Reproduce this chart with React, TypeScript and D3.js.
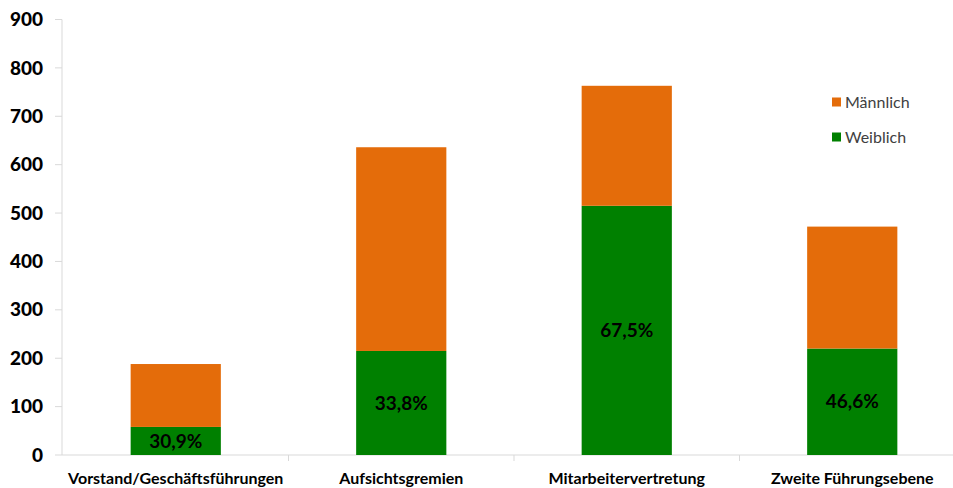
import React, { useEffect, useRef } from "react";
import * as d3 from "d3";

const categories = ["Vorstand/Geschäftsführungen", "Aufsichtsgremien", "Mitarbeitervertretung", "Zweite Führungsebene"];
const weiblich = [58, 215, 515, 220];
const maennlich = [130, 421, 248, 252];
const percentLabels = ["30,9%", "33,8%", "67,5%", "46,6%"];
const yTicks = [0, 100, 200, 300, 400, 500, 600, 700, 800, 900];
const seriesNames = ["Männlich", "Weiblich"];
const colors = { Männlich: "#E46C0A", Weiblich: "#008000" } as Record<string, string>;

export default function App() {
  const ref = useRef<SVGSVGElement>(null);
  useEffect(() => {
    document.body.style.margin = "0";
    const svg = d3.select(ref.current);
    svg.selectAll("*").remove();
    const W = 953;
    const font = "Lato, 'Open Sans', sans-serif";
    const x = d3.scaleBand<string>().domain(categories).range([63, 965]).paddingInner(0.6).paddingOuter(0.3);
    const y = d3.scaleLinear().domain([0, 900]).range([455, 19.5]);

    svg.append("line").attr("x1", 62).attr("x2", 62).attr("y1", y(900)).attr("y2", y(0)).attr("stroke", "#d9d9d9").attr("stroke-width", 1);
    svg.append("line").attr("x1", 62).attr("x2", W).attr("y1", y(0)).attr("y2", y(0)).attr("stroke", "#d9d9d9").attr("stroke-width", 1);
    yTicks.forEach((t) => {
      svg.append("line").attr("x1", 55).attr("x2", 62).attr("y1", y(t)).attr("y2", y(t)).attr("stroke", "#d9d9d9");
      svg.append("text").attr("x", 43).attr("y", y(t)).attr("dy", "0.35em").attr("text-anchor", "end")
        .attr("font-family", font).attr("font-weight", "900").attr("font-size", 19).attr("fill", "#000").text(String(t));
    });
    const step = x.step();
    categories.forEach((c, i) => {
      if (i > 0) {
        const boundary = (x(categories[i - 1]) as number) + x.bandwidth() + (step - x.bandwidth()) / 2;
        svg.append("line").attr("x1", boundary).attr("x2", boundary).attr("y1", y(0)).attr("y2", y(0) + 6).attr("stroke", "#d9d9d9");
      }
      svg.append("text").attr("x", (x(c) as number) + x.bandwidth() / 2).attr("y", 478).attr("dy", "0.35em")
        .attr("text-anchor", "middle").attr("font-family", font).attr("font-weight", "bold").attr("font-size", 16).attr("fill", "#000").text(c);
    });

    categories.forEach((c, i) => {
      const bx = x(c) as number;
      const bw = x.bandwidth();
      svg.append("rect").attr("x", bx).attr("width", bw).attr("y", y(weiblich[i])).attr("height", y(0) - y(weiblich[i])).attr("fill", colors["Weiblich"]);
      const top = weiblich[i] + maennlich[i];
      svg.append("rect").attr("x", bx).attr("width", bw).attr("y", y(top)).attr("height", y(weiblich[i]) - y(top)).attr("fill", colors["Männlich"]);
      svg.append("text").attr("x", bx + bw / 2).attr("y", (y(0) + y(weiblich[i])) / 2).attr("dy", "0.35em")
        .attr("text-anchor", "middle").attr("font-family", font).attr("font-weight", "bold").attr("font-size", 19).attr("fill", "#000").text(percentLabels[i]);
    });

    seriesNames.forEach((s, i) => {
      const ly = 102 + i * 35;
      svg.append("rect").attr("x", 832).attr("y", ly - 4.5).attr("width", 9).attr("height", 9).attr("fill", colors[s]);
      svg.append("text").attr("x", 845).attr("y", ly).attr("dy", "0.35em").attr("font-family", font).attr("font-size", 16).attr("fill", "#404040").text(s);
    });
  }, []);
  return <svg ref={ref} width={953} height={488} style={{ display: "block", background: "#fff" }} />;
}
